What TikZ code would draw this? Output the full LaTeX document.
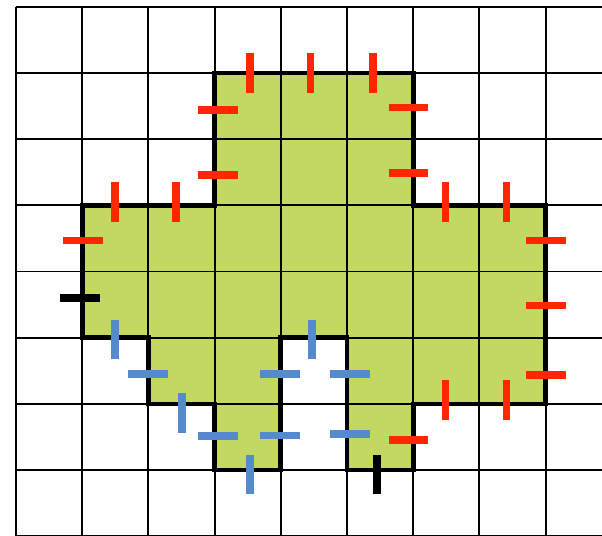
\documentclass[tikz,border=0pt]{standalone}
\usepackage{tikz}
\definecolor{shapegreen}{RGB}{194,216,96}
\definecolor{tickred}{RGB}{255,38,0}
\definecolor{tickblue}{RGB}{85,138,206}
\tikzset{
  gridline/.style={line width=0.8pt, black},
  outline/.style={line width=2pt, black, line join=miter},
  tickbase/.style={line width=3.3pt, line cap=butt},
  redtick/.style={tickbase, tickred},
  bluetick/.style={tickbase, tickblue},
  blacktick/.style={tickbase, black},
}
\newcommand{\vtick}[3]{\draw[#1] (#2,#3) ++(0,-0.3) -- ++(0,0.6);}
\newcommand{\htick}[3]{\draw[#1] (#2,#3) ++(-0.3,0) -- ++(0.6,0);}
\begin{document}
\begin{tikzpicture}
\useasboundingbox (-0.2417,0.005) rectangle (8.852,8.101);
\clip (-0.2417,0.005) rectangle (8.852,8.101);
% green region
\fill[shapegreen] (1,5) -- (1,3) -- (2,3) -- (2,2) -- (3,2) -- (3,1) -- (4,1) -- (4,3) -- (5,3) -- (5,1) -- (6,1) -- (6,2) -- (8,2) -- (8,5) -- (6,5) -- (6,7) -- (3,7) -- (3,5) -- cycle;
% grid
\foreach \i in {0,...,8} {
  \draw[gridline] (\i,0) -- (\i,8);
  \draw[gridline] (0,\i) -- (8.9,\i);
}
% outline
\draw[outline] (1,5) -- (1,3) -- (2,3) -- (2,2) -- (3,2) -- (3,1) -- (4,1) -- (4,3) -- (5,3) -- (5,1) -- (6,1) -- (6,2) -- (8,2) -- (8,5) -- (6,5) -- (6,7) -- (3,7) -- (3,5) -- cycle;
% red ticks
\vtick{redtick}{3.535}{7}
\vtick{redtick}{4.45}{7}
\vtick{redtick}{5.39}{7}
\htick{redtick}{3.047}{6.444}
\htick{redtick}{3.047}{5.453}
\htick{redtick}{5.93}{6.475}
\htick{redtick}{5.93}{5.49}
\vtick{redtick}{1.495}{5.045}
\vtick{redtick}{2.417}{5.045}
\vtick{redtick}{6.49}{5.045}
\vtick{redtick}{7.41}{5.045}
\htick{redtick}{1.012}{4.47}
\htick{redtick}{8.006}{4.47}
\htick{redtick}{8.006}{3.484}
\htick{redtick}{8.006}{2.44}
\vtick{redtick}{6.49}{2.06}
\vtick{redtick}{7.41}{2.06}
\htick{redtick}{5.93}{1.45}
% black ticks
\htick{blacktick}{0.967}{3.595}
\vtick{blacktick}{5.45}{0.934}
% blue ticks
\vtick{bluetick}{1.495}{2.973}
\htick{bluetick}{1.999}{2.456}
\vtick{bluetick}{2.503}{1.863}
\htick{bluetick}{3.047}{1.515}
\vtick{bluetick}{3.535}{0.934}
\htick{bluetick}{3.99}{2.456}
\htick{bluetick}{3.99}{1.52}
\vtick{bluetick}{4.476}{2.973}
\htick{bluetick}{5.04}{2.456}
\htick{bluetick}{5.04}{1.54}
\end{tikzpicture}
\end{document}
